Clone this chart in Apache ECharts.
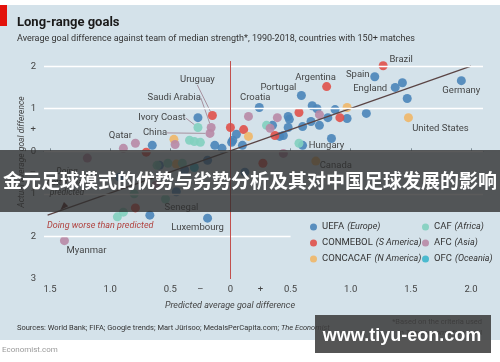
<!DOCTYPE html>
<html><head><meta charset="utf-8">
<script src="https://cdn.jsdelivr.net/npm/echarts@6.0.0/dist/echarts.min.js"></script>
<style>html,body{margin:0;padding:0;background:#fff}#c{width:500px;height:362px}</style>
</head><body><div id="c"></div>
<script>
// ---- DATA ----
const countryNames = ['Brazil','Spain','Argentina','England','Germany','Portugal','Croatia','Uruguay','Saudi Arabia','Ivory Coast','China','Qatar','United States','Hungary','Canada','Senegal','Luxembourg','Myanmar',
  '','','','','','','','','','','','','','','','','','','','','','','','','','','','','','','','','',
  '','','','','','','','',
  '','','','',
  '','','','','','','','','','','',
  '','','','','','','','','',
  ''];
const confederation = ['CONMEBOL','UEFA','CONMEBOL','UEFA','UEFA','UEFA','UEFA','CONMEBOL','AFC','CAF','AFC','AFC','CONCACAF','UEFA','CONCACAF','CAF','UEFA','AFC',
  'UEFA','UEFA','UEFA','UEFA','UEFA','UEFA','UEFA','UEFA','UEFA','UEFA','UEFA','UEFA','UEFA','UEFA','UEFA','UEFA','UEFA','UEFA','UEFA','UEFA','UEFA','UEFA','UEFA','UEFA','UEFA','UEFA','UEFA','UEFA','UEFA','UEFA','UEFA','UEFA','UEFA',
  'CONMEBOL','CONMEBOL','CONMEBOL','CONMEBOL','CONMEBOL','CONMEBOL','CONMEBOL','CONMEBOL',
  'CONCACAF','CONCACAF','CONCACAF','CONCACAF',
  'CAF','CAF','CAF','CAF','CAF','CAF','CAF','CAF','CAF','CAF','CAF',
  'AFC','AFC','AFC','AFC','AFC','AFC','AFC','AFC','AFC',
  'OFC'];
const predictedGD = [1.27,1.20,0.80,1.37,1.92,0.59,0.24,-0.15,-0.16,-0.27,-0.17,-0.79,1.48,0.60,0.71,-0.54,-0.19,-1.38,
  1.43,1.47,-0.27,0.48,0.49,0.68,0.72,0.81,0.87,0.97,1.13,0.05,0.35,0.41,0.44,0.48,0.60,0.67,0.74,0.84,0.01,0.10,-0.65,-0.13,-0.07,0.02,-0.92,-0.67,-0.59,-0.38,-0.19,0.12,-0.45,
  0.57,0.91,0.00,0.11,0.37,-0.70,0.27,-0.79,
  0.97,0.15,-0.47,-0.45,
  0.30,-0.34,-0.30,-0.25,0.57,-0.94,-0.89,-0.61,-0.52,-0.40,-0.80,
  0.15,0.39,0.74,0.33,-0.89,-0.46,-1.19,0.44,-0.62,
  -0.30];
const actualGD = [2.01,1.75,1.52,1.50,1.66,1.31,1.03,0.84,0.56,0.56,0.42,0.19,0.79,0.14,-0.23,-1.12,-1.57,-2.10,
  1.61,1.24,0.79,0.82,0.75,1.07,1.00,0.79,0.98,0.77,0.89,0.40,0.61,0.35,0.37,0.56,0.58,0.70,0.61,0.30,0.21,0.14,0.14,0.14,0.07,0.26,-0.61,-1.50,-0.33,-0.44,-0.21,-0.49,-0.95,
  0.91,0.79,0.56,0.51,0.37,-0.02,-0.28,-1.33,
  1.03,0.35,0.28,-0.30,
  0.61,0.26,0.23,0.21,0.19,-1.54,-1.43,-0.33,-0.28,-0.28,-1.00,
  0.82,0.79,0.86,0.54,0.07,0.16,-0.16,-0.05,-0.80,
  -0.38];
const refLineX = [-1.52, 2.0];
const refLineY = [-1.5, 2.0];
const xTickLabels = [-1.5,-1,-0.5,-0.25,0,0.25,0.5,1,1.5,2];
const yTickLabels = [2,1,0.5,0,-0.5,-1,-2,-3];
const gridValues = [2,1,0,-1];

// ---- STYLE / LAYOUT ----
const FONT = 'Roboto, "Liberation Sans", sans-serif';
const confedOrder = ['UEFA','CONMEBOL','CONCACAF','CAF','AFC','OFC'];
const confedRegion = {UEFA:'Europe', CONMEBOL:'S America', CONCACAF:'N America', CAF:'Africa', AFC:'Asia', OFC:'Oceania'};
const confedColor = {UEFA:'#4a85b9', CONMEBOL:'#e0514a', CONCACAF:'#efb768', CAF:'#82d0bf', AFC:'#b88aa6', OFC:'#3cb6cc'};
const labelOffsets = {'Brazil':[18,8],'Spain':[-17,12],'Argentina':[-11,6],'England':[-25,16],'Germany':[0,24],'Portugal':[-23,7],'Croatia':[-4,5],
  'Uruguay':[-15,-21],'Saudi Arabia':[-37,-15],'Ivory Coast':[-36,5],'China':[-55,14],'Qatar':[-15,7],'United States':[32,25],'Hungary':[24,15],
  'Canada':[20,19],'Senegal':[16,23],'Luxembourg':[-10,24],'Myanmar':[22,24]};
const leaderLines = ['Uruguay','Saudi Arabia','Ivory Coast','China'];

const chart = echarts.init(document.getElementById('c'), null, {renderer:'canvas'});

const pointSeries = confedOrder.map(c => {
  const data = [];
  countryNames.forEach((n, i) => {
    if (confederation[i] !== c) return;
    const item = {value:[predictedGD[i], actualGD[i]], name:n};
    if (n) item.label = {show:true};
    if (leaderLines.includes(n)) item.labelLine = {show:true};
    data.push(item);
  });
  return {
    type:'scatter', name:c, data, symbolSize:9, z:3, silent:true,
    itemStyle:{color:confedColor[c], opacity:0.9},
    label:{show:false, position:'top', distance:5, formatter:'{b}', fontSize:9.5, color:'#333', fontFamily:FONT},
    labelLine:{show:false, lineStyle:{color:'#9a7c8c', width:0.8}},
    labelLayout: p => { const o = labelOffsets[p.text]; return o ? {dx:o[0], dy:o[1]} : {}; },
    emphasis:{disabled:true}
  };
});

const legendFmt = name => `{n|${name}} {i|(${confedRegion[name]})}`;
const legendBase = {orient:'vertical', icon:'circle', itemWidth:7, itemHeight:7, itemGap:4, top:216,
  formatter:legendFmt, selectedMode:false,
  textStyle:{fontFamily:FONT, lineHeight:12, rich:{n:{fontSize:9.5,color:'#333',fontFamily:FONT}, i:{fontSize:9,color:'#333',fontStyle:'italic',fontFamily:FONT}}}};

const gridMarks = gridValues.map(v => ({yAxis:v}));
gridMarks.push([{coord:[-1.55,-2]},{coord:[0.5,-2]}]);

const option = {
  animation:false,
  backgroundColor:'#d4e2ea',
  grid:{left:44, right:17, top:47, bottom:83, containLabel:false},
  xAxis:{type:'value', min:-1.55, max:2.1,
    axisLine:{show:true, lineStyle:{color:'#7d8d97', width:1}},
    axisTick:{show:true, inside:true, length:3, customValues:[-1.5,-1,-0.5,0.5,1,1.5,2], lineStyle:{color:'#7d8d97'}},
    axisLabel:{customValues:xTickLabels, margin:6, fontSize:9.5, color:'#444', fontFamily:FONT,
      formatter:v => v===-0.25?'–':(v===0.25?'+':(v===0?'0':Math.abs(v).toFixed(1)))},
    splitLine:{show:false}},
  yAxis:{type:'value', min:-3, max:2.45,
    axisLine:{show:false}, axisTick:{show:false}, splitLine:{show:false},
    axisLabel:{customValues:yTickLabels, margin:8, fontSize:9.5, color:'#444', fontFamily:FONT,
      formatter:v => v===0.5?'+':(v===-0.5?'–':String(Math.abs(v)))}},
  legend:[
    Object.assign({}, legendBase, {left:305, data:['UEFA','CONMEBOL','CONCACAF']}),
    Object.assign({}, legendBase, {left:417, data:['CAF','AFC','OFC']})
  ],
  series:[
    {type:'line', data:[], silent:true, z:1,
      markLine:{silent:true, symbol:'none', animation:false, label:{show:false},
        lineStyle:{color:'#ffffff', width:1.4, type:'solid'},
        data: gridMarks.concat([[{coord:[0,-3], lineStyle:{color:'#c2504d', width:1, type:'solid'}},{coord:[0,2.12]}]])}},
    ...pointSeries,
    {type:'line', data:refLineX.map((x,i)=>[x, refLineY[i]]), symbol:'none', silent:true, z:4,
      lineStyle:{color:'#5a4444', width:1.2},
      markPoint:{silent:true, symbol:'triangle', symbolSize:[6,8], symbolRotate:135, itemStyle:{color:'#5a3030'}, label:{show:false},
        data:[{coord:[-1.39,-1.31]}]}}
  ],
  graphic:[
    {type:'rect', shape:{x:0,y:0,width:500,height:5}, style:{fill:'#fff'}, z:50},
    {type:'rect', shape:{x:0,y:340,width:500,height:22}, style:{fill:'#fff'}, z:50},
    {type:'rect', shape:{x:0,y:5,width:7,height:21}, style:{fill:'#e3120b'}, z:51},
    {type:'text', x:17, y:23, style:{text:'Long-range goals', font:'bold 13px '+FONT, fill:'#1a1a1a', textVerticalAlign:'middle'}, z:51},
    {type:'text', x:17, y:39, style:{text:'Average goal difference against team of median strength*, 1990-2018, countries with 150+ matches', font:'9px '+FONT, fill:'#333', textVerticalAlign:'middle'}, z:51},
    {type:'text', x:22, y:152, rotation:Math.PI/2, style:{text:'Actual average goal difference', font:'italic 8.5px '+FONT, fill:'#444', textAlign:'center', textVerticalAlign:'middle'}, z:10},
    {type:'text', x:230, y:306, style:{text:'Predicted average goal difference', font:'italic 9px '+FONT, fill:'#444', textAlign:'center', textVerticalAlign:'middle'}, z:10},
    {type:'text', x:67, y:167, style:{text:'Doing\nbetter than\npredicted', font:'italic 8.5px '+FONT, fill:'#3a3a3a', textAlign:'center', lineHeight:10.5, textVerticalAlign:'top'}, z:10},
    {type:'text', x:47, y:226, style:{text:'Doing worse than predicted', font:'italic 9px '+FONT, fill:'#b0413e', textVerticalAlign:'middle'}, z:10},
    {type:'text', x:17, y:328, style:{text:'Sources: World Bank; FIFA; Google trends; Mart Jürisoo; MedalsPerCapita.com; {i|The Economist}', font:'7.5px '+FONT, fill:'#333', textVerticalAlign:'middle', rich:{i:{fontStyle:'italic', fontSize:7.5, fill:'#333', fontFamily:FONT}}}, z:10},
    {type:'text', x:482, y:322, style:{text:'*Based on the criteria used', font:'7.5px '+FONT, fill:'#333', textAlign:'right', textVerticalAlign:'middle'}, z:10},
    {type:'text', x:482, y:333, style:{text:'in {i|The Economist}\'s model', font:'7.5px '+FONT, fill:'#333', textAlign:'right', textVerticalAlign:'middle', rich:{i:{fontStyle:'italic', fontSize:7.5, fill:'#333', fontFamily:FONT}}}, z:10},
    {type:'text', x:2, y:350, style:{text:'Economist.com', font:'8px '+FONT, fill:'#9a9a9a', textVerticalAlign:'middle'}, z:51},
    {type:'rect', shape:{x:0,y:150,width:500,height:62}, style:{fill:'rgba(45,45,45,0.78)'}, z:100},
    {type:'text', x:250, y:181, style:{text:'金元足球模式的优势与劣势分析及其对中国足球发展的影响', font:'bold 19px "Noto Sans CJK SC"', fill:'#fff', textAlign:'center', textVerticalAlign:'middle'}, z:101},
    {type:'rect', shape:{x:315,y:315,width:176,height:38}, style:{fill:'rgba(62,62,62,0.88)'}, z:100},
    {type:'text', x:402, y:336, style:{text:'www.tiyu-eon.com', font:'bold 18px "Liberation Sans", Arial, sans-serif', fill:'#fff', textAlign:'center', textVerticalAlign:'middle'}, z:101}
  ]
};
chart.setOption(option);
</script></body></html>
